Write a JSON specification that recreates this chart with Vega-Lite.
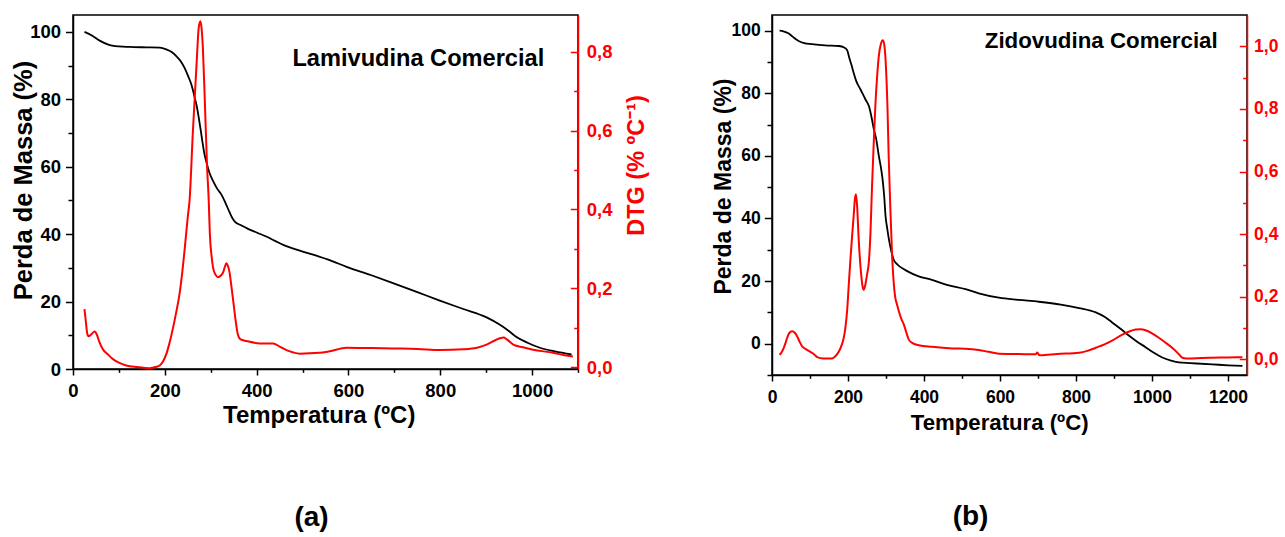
{
  "$schema": "https://vega.github.io/schema/vega-lite/v6.json",
  "background": "white",
  "padding": {"left": 10, "top": 14, "right": 0, "bottom": 0},
  "spacing": 62,
  "config": {
    "view": {"stroke": "black", "strokeWidth": 1.5},
    "axis": {"grid": false, "labelFont": "Liberation Sans", "titleFont": "Liberation Sans", "labelFontWeight": "bold", "titleFontWeight": "bold", "domainWidth": 1.5, "tickWidth": 1.5, "labelFlush": false, "labelOverlap": false, "domainColor": "black", "tickColor": "black", "labelColor": "black", "titleColor": "black"},
    "text": {"font": "Liberation Sans"},
    "title": {"font": "Liberation Sans"}
  },
  "datasets": {
    "a_tg": [
      {"T":25,"m":100},{"T":43,"m":98.8},{"T":58,"m":97.4},{"T":80,"m":96.1},{"T":109,"m":95.6},{"T":131,"m":95.5},{"T":160,"m":95.4},{"T":189,"m":95.3},{"T":203,"m":94.8},{"T":215,"m":94},{"T":225,"m":92.8},{"T":235,"m":91.2},{"T":243,"m":89.3},{"T":251,"m":86.8},{"T":258,"m":84.3},{"T":261,"m":82.8},{"T":265,"m":80.5},{"T":269,"m":78.3},{"T":274,"m":74.5},{"T":278,"m":71},{"T":282,"m":67.3},{"T":286,"m":64},{"T":291,"m":61.2},{"T":297,"m":58.3},{"T":305,"m":55.8},{"T":314,"m":53.5},{"T":323,"m":51.8},{"T":332,"m":49.3},{"T":341,"m":46.5},{"T":347,"m":44.8},{"T":352,"m":43.8},{"T":365,"m":42.7},{"T":378,"m":41.8},{"T":400,"m":40.5},{"T":421,"m":39.3},{"T":440,"m":38},{"T":458,"m":36.8},{"T":494,"m":35.1},{"T":530,"m":33.6},{"T":559,"m":32.3},{"T":596,"m":30.3},{"T":650,"m":27.8},{"T":697,"m":25.5},{"T":750,"m":22.8},{"T":799,"m":20.3},{"T":850,"m":17.8},{"T":901,"m":15.3},{"T":930,"m":13.1},{"T":950,"m":11.2},{"T":966,"m":9.5},{"T":990,"m":7.8},{"T":1017,"m":6.3},{"T":1050,"m":5.2},{"T":1086,"m":4.3}
    ],
    "a_dtg": [
      {"T":25,"d":0.147},{"T":28,"d":0.115},{"T":31,"d":0.085},{"T":34,"d":0.078},{"T":40,"d":0.083},{"T":47,"d":0.09},{"T":52,"d":0.082},{"T":57,"d":0.065},{"T":65,"d":0.045},{"T":75,"d":0.033},{"T":87,"d":0.02},{"T":100,"d":0.011},{"T":116,"d":0.004},{"T":140,"d":0.0},{"T":167,"d":-0.003},{"T":180,"d":0.0},{"T":189,"d":0.004},{"T":196,"d":0.014},{"T":203,"d":0.032},{"T":210,"d":0.06},{"T":218,"d":0.1},{"T":225,"d":0.14},{"T":232,"d":0.185},{"T":238,"d":0.24},{"T":243,"d":0.296},{"T":250,"d":0.381},{"T":254,"d":0.424},{"T":261,"d":0.594},{"T":265,"d":0.68},{"T":269,"d":0.765},{"T":274,"d":0.862},{"T":277.5,"d":0.877},{"T":280,"d":0.86},{"T":283,"d":0.807},{"T":287,"d":0.68},{"T":292,"d":0.509},{"T":295.6,"d":0.424},{"T":298,"d":0.34},{"T":302,"d":0.28},{"T":305,"d":0.253},{"T":310,"d":0.235},{"T":316,"d":0.228},{"T":322,"d":0.232},{"T":327,"d":0.24},{"T":331,"d":0.255},{"T":334,"d":0.263},{"T":337,"d":0.258},{"T":341,"d":0.24},{"T":345,"d":0.205},{"T":349,"d":0.168},{"T":354,"d":0.12},{"T":359,"d":0.083},{"T":365,"d":0.07},{"T":378,"d":0.066},{"T":407,"d":0.06},{"T":436,"d":0.06},{"T":450,"d":0.052},{"T":465,"d":0.043},{"T":480,"d":0.037},{"T":494,"d":0.034},{"T":537,"d":0.036},{"T":559,"d":0.04},{"T":596,"d":0.049},{"T":650,"d":0.048},{"T":697,"d":0.047},{"T":750,"d":0.046},{"T":799,"d":0.043},{"T":850,"d":0.045},{"T":880,"d":0.049},{"T":901,"d":0.057},{"T":920,"d":0.068},{"T":930,"d":0.073},{"T":938,"d":0.075},{"T":945,"d":0.07},{"T":959,"d":0.057},{"T":980,"d":0.05},{"T":1002,"d":0.044},{"T":1046,"d":0.036},{"T":1070,"d":0.03},{"T":1089,"d":0.027}
    ],
    "b_tg": [
      {"T":20,"m":100},{"T":30,"m":99.8},{"T":44,"m":99.1},{"T":55,"m":98},{"T":70,"m":96.7},{"T":85,"m":96},{"T":105,"m":95.7},{"T":140,"m":95.3},{"T":176,"m":95.1},{"T":190,"m":94.6},{"T":198,"m":93.7},{"T":203,"m":91.5},{"T":208,"m":89.5},{"T":215,"m":86.5},{"T":222,"m":83.8},{"T":233,"m":81.2},{"T":246,"m":78},{"T":255,"m":75.9},{"T":263,"m":71.7},{"T":268,"m":68.5},{"T":274,"m":65.5},{"T":281,"m":60.1},{"T":287,"m":56},{"T":291,"m":52.5},{"T":295,"m":47.5},{"T":299,"m":40.5},{"T":303,"m":37},{"T":307,"m":33.8},{"T":314,"m":29.5},{"T":320,"m":26.9},{"T":330,"m":25.3},{"T":351,"m":23.5},{"T":370,"m":22.3},{"T":386,"m":21.5},{"T":421,"m":20.4},{"T":460,"m":18.8},{"T":509,"m":17.4},{"T":544,"m":16.1},{"T":597,"m":14.7},{"T":650,"m":14},{"T":702,"m":13.4},{"T":760,"m":12.5},{"T":808,"m":11.4},{"T":852,"m":10},{"T":875,"m":8.6},{"T":895,"m":6.8},{"T":918,"m":4.7},{"T":939,"m":2.6},{"T":960,"m":0.7},{"T":983,"m":-1.1},{"T":1005,"m":-2.9},{"T":1027,"m":-4.4},{"T":1050,"m":-5.4},{"T":1071,"m":-6},{"T":1100,"m":-6.2},{"T":1159,"m":-6.6},{"T":1200,"m":-6.9},{"T":1238,"m":-7.1}
    ],
    "b_dtg": [
      {"T":20,"d":0.014},{"T":25,"d":0.022},{"T":31,"d":0.037},{"T":35,"d":0.05},{"T":40,"d":0.069},{"T":46,"d":0.085},{"T":53,"d":0.09},{"T":60,"d":0.085},{"T":66,"d":0.074},{"T":72,"d":0.058},{"T":79,"d":0.042},{"T":90,"d":0.032},{"T":105,"d":0.021},{"T":112,"d":0.015},{"T":119,"d":0.007},{"T":135,"d":0.003},{"T":158,"d":0.003},{"T":165,"d":0.008},{"T":171,"d":0.016},{"T":178,"d":0.03},{"T":184,"d":0.048},{"T":189,"d":0.07},{"T":193,"d":0.1},{"T":198,"d":0.16},{"T":202,"d":0.238},{"T":207,"d":0.33},{"T":211,"d":0.397},{"T":215,"d":0.46},{"T":218,"d":0.51},{"T":221,"d":0.527},{"T":224,"d":0.49},{"T":228,"d":0.386},{"T":234,"d":0.28},{"T":238,"d":0.235},{"T":241.5,"d":0.222},{"T":245,"d":0.235},{"T":250,"d":0.27},{"T":255,"d":0.312},{"T":259,"d":0.4},{"T":263,"d":0.545},{"T":268,"d":0.7},{"T":272,"d":0.81},{"T":277,"d":0.91},{"T":281,"d":0.968},{"T":286,"d":1.005},{"T":292,"d":1.019},{"T":296,"d":1.0},{"T":300,"d":0.93},{"T":304,"d":0.8},{"T":307,"d":0.651},{"T":311,"d":0.5},{"T":316,"d":0.333},{"T":320,"d":0.25},{"T":324,"d":0.2},{"T":329,"d":0.175},{"T":334,"d":0.153},{"T":340,"d":0.13},{"T":347,"d":0.111},{"T":353,"d":0.088},{"T":360,"d":0.063},{"T":370,"d":0.052},{"T":386,"d":0.045},{"T":421,"d":0.04},{"T":474,"d":0.035},{"T":509,"d":0.034},{"T":544,"d":0.03},{"T":570,"d":0.024},{"T":597,"d":0.018},{"T":650,"d":0.017},{"T":694,"d":0.016},{"T":698,"d":0.022},{"T":703,"d":0.014},{"T":707,"d":0.013},{"T":750,"d":0.017},{"T":808,"d":0.021},{"T":830,"d":0.027},{"T":852,"d":0.037},{"T":875,"d":0.048},{"T":895,"d":0.06},{"T":922,"d":0.079},{"T":940,"d":0.089},{"T":957,"d":0.095},{"T":970,"d":0.096},{"T":983,"d":0.093},{"T":1000,"d":0.083},{"T":1018,"d":0.069},{"T":1035,"d":0.054},{"T":1053,"d":0.037},{"T":1068,"d":0.02},{"T":1080,"d":0.005},{"T":1090,"d":0.003},{"T":1106,"d":0.003},{"T":1150,"d":0.005},{"T":1200,"d":0.006},{"T":1238,"d":0.007}
    ]
  },
  "hconcat": [
    {
      "width": 505,
      "height": 354,
      "title": {"text": "(a)", "orient": "bottom", "frame": "group", "fontSize": 28, "fontWeight": "bold", "color": "black", "offset": 76, "dx": -14},
      "resolve": {"scale": {"y": "independent"}, "axis": {"x": "independent", "y": "independent"}},
      "layer": [
        {
          "data": {"name": "a_tg"},
          "mark": {"type": "line", "color": "black", "strokeWidth": 1.8, "interpolate": "monotone"},
          "encoding": {
            "x": {"field": "T", "type": "quantitative", "scale": {"domain": [0, 1100], "nice": false, "zero": false},
                  "axis": {"orient": "bottom", "values": [0, 200, 400, 600, 800, 1000], "format": "d", "tickSize": 6, "labelPadding": 21, "labelBaseline": "alphabetic", "labelFontSize": 18.5, "title": "Temperatura (ºC)", "titleFontSize": 24, "titleX": 245.7, "titleY": 53.7, "titleBaseline": "alphabetic", "titleAlign": "center"}},
            "y": {"field": "m", "type": "quantitative", "scale": {"domain": [0, 105], "nice": false, "zero": false},
                  "axis": {"orient": "left", "values": [0, 20, 40, 60, 80, 100], "tickSize": 7.5, "labelPadding": 5, "labelFontSize": 18.5, "title": "Perda de Massa (%)", "titleFontSize": 25.5, "titleAngle": 270, "titleX": -41.6, "titleY": 165, "titleBaseline": "alphabetic", "titleAlign": "center"}}
          }
        },
        {
          "data": {"name": "a_dtg"},
          "mark": {"type": "line", "color": "#ff0000", "strokeWidth": 2, "interpolate": "monotone"},
          "encoding": {
            "x": {"field": "T", "type": "quantitative", "scale": {"domain": [0, 1100], "nice": false, "zero": false}, "axis": null},
            "y": {"field": "d", "type": "quantitative", "scale": {"domain": [-0.005, 0.893], "nice": false, "zero": false},
                  "axis": {"orient": "right", "values": [0, 0.2, 0.4, 0.6, 0.8], "labelExpr": "replace(format(datum.value, '.1f'), '.', ',')", "tickSize": -7.7, "labelPadding": 16, "labelFontSize": 18.5, "labelColor": "#ff0000", "tickColor": "#ff0000", "domainColor": "#ff0000", "title": "DTG (%  ºC⁻¹)", "titleColor": "#ff0000", "titleFontSize": 23.5, "titleAngle": 270, "titleX": 65.6, "titleY": 150, "titleBaseline": "alphabetic", "titleAlign": "center"}}
          }
        },
        {
          "data": {"values": [{}]},
          "mark": {"type": "text", "text": "", "opacity": 0},
          "encoding": {
            "x": {"datum": 0, "type": "quantitative", "scale": {"domain": [0, 1100], "nice": false, "zero": false},
                  "axis": {"orient": "bottom", "values": [100, 300, 500, 700, 900, 1100], "labels": false, "domain": false, "tickSize": 3.3, "title": null}},
            "y": {"datum": 0, "type": "quantitative", "scale": {"domain": [0, 105], "nice": false, "zero": false},
                  "axis": {"orient": "left", "values": [10, 30, 50, 70, 90], "labels": false, "domain": false, "tickSize": 5, "title": null}}
          }
        },
        {
          "data": {"values": [{}]},
          "mark": {"type": "text", "text": "", "opacity": 0},
          "encoding": {
            "y": {"datum": 0, "type": "quantitative", "scale": {"domain": [-0.005, 0.893], "nice": false, "zero": false},
                  "axis": {"orient": "right", "values": [0.1, 0.3, 0.5, 0.7], "labels": false, "domain": false, "tickSize": -4.3, "tickColor": "#ff0000", "title": null}}
          }
        },
        {
          "data": {"values": [{}]},
          "mark": {"type": "text", "text": "Lamivudina Comercial", "align": "left", "baseline": "alphabetic", "fontSize": 23.6, "fontWeight": "bold", "color": "black"},
          "encoding": {
            "x": {"datum": 478, "type": "quantitative", "axis": null},
            "y": {"datum": 90, "type": "quantitative", "scale": {"domain": [0, 105], "nice": false, "zero": false}, "axis": null}
          }
        }
      ]
    },
    {
      "width": 475,
      "height": 360,
      "title": {"text": "(b)", "orient": "bottom", "frame": "group", "fontSize": 28, "fontWeight": "bold", "color": "black", "offset": 70, "dx": -39},
      "resolve": {"scale": {"y": "independent"}, "axis": {"x": "independent", "y": "independent"}},
      "layer": [
        {
          "data": {"name": "b_tg"},
          "mark": {"type": "line", "color": "black", "strokeWidth": 1.8, "interpolate": "monotone"},
          "encoding": {
            "x": {"field": "T", "type": "quantitative", "scale": {"domain": [0, 1250], "nice": false, "zero": false},
                  "axis": {"orient": "bottom", "values": [0, 200, 400, 600, 800, 1000, 1200], "format": "d", "tickSize": 6, "labelPadding": 21.7, "labelBaseline": "alphabetic", "labelFontSize": 17.5, "title": "Temperatura (ºC)", "titleFontSize": 22.2, "titleX": 227.2, "titleY": 54, "titleBaseline": "alphabetic", "titleAlign": "center"}},
            "y": {"field": "m", "type": "quantitative", "scale": {"domain": [-10, 105], "nice": false, "zero": false},
                  "axis": {"orient": "left", "values": [0, 20, 40, 60, 80, 100], "tickSize": 7.7, "labelPadding": 4, "labelFontSize": 17.5, "title": "Perda de Massa (%)", "titleFontSize": 23, "titleAngle": 270, "titleX": -41.6, "titleY": 171, "titleBaseline": "alphabetic", "titleAlign": "center"}}
          }
        },
        {
          "data": {"name": "b_dtg"},
          "mark": {"type": "line", "color": "#ff0000", "strokeWidth": 2, "interpolate": "monotone"},
          "encoding": {
            "x": {"field": "T", "type": "quantitative", "scale": {"domain": [0, 1250], "nice": false, "zero": false}, "axis": null},
            "y": {"field": "d", "type": "quantitative", "scale": {"domain": [-0.05, 1.1], "nice": false, "zero": false},
                  "axis": {"orient": "right", "values": [0, 0.2, 0.4, 0.6, 0.8, 1.0], "labelExpr": "replace(format(datum.value, '.1f'), '.', ',')", "tickSize": -7.7, "labelPadding": 14.3, "labelFontSize": 17.5, "labelColor": "#ff0000", "tickColor": "#ff0000", "domainColor": "#ff0000", "title": null}}
          }
        },
        {
          "data": {"values": [{}]},
          "mark": {"type": "text", "text": "", "opacity": 0},
          "encoding": {
            "x": {"datum": 0, "type": "quantitative", "scale": {"domain": [0, 1250], "nice": false, "zero": false},
                  "axis": {"orient": "bottom", "values": [100, 300, 500, 700, 900, 1100], "labels": false, "domain": false, "tickSize": 3.3, "title": null}},
            "y": {"datum": 0, "type": "quantitative", "scale": {"domain": [-10, 105], "nice": false, "zero": false},
                  "axis": {"orient": "left", "values": [-10, 10, 30, 50, 70, 90], "labels": false, "domain": false, "tickSize": 5, "title": null}}
          }
        },
        {
          "data": {"values": [{}]},
          "mark": {"type": "text", "text": "", "opacity": 0},
          "encoding": {
            "y": {"datum": 0, "type": "quantitative", "scale": {"domain": [-0.05, 1.1], "nice": false, "zero": false},
                  "axis": {"orient": "right", "values": [0.1, 0.3, 0.5, 0.7, 0.9], "labels": false, "domain": false, "tickSize": -4.3, "tickColor": "#ff0000", "title": null}}
          }
        },
        {
          "data": {"values": [{}]},
          "mark": {"type": "text", "text": "Zidovudina Comercial", "align": "left", "baseline": "alphabetic", "fontSize": 22.3, "fontWeight": "bold", "color": "black"},
          "encoding": {
            "x": {"datum": 560, "type": "quantitative", "axis": null},
            "y": {"datum": 94.5, "type": "quantitative", "scale": {"domain": [-10, 105], "nice": false, "zero": false}, "axis": null}
          }
        }
      ]
    }
  ]
}
